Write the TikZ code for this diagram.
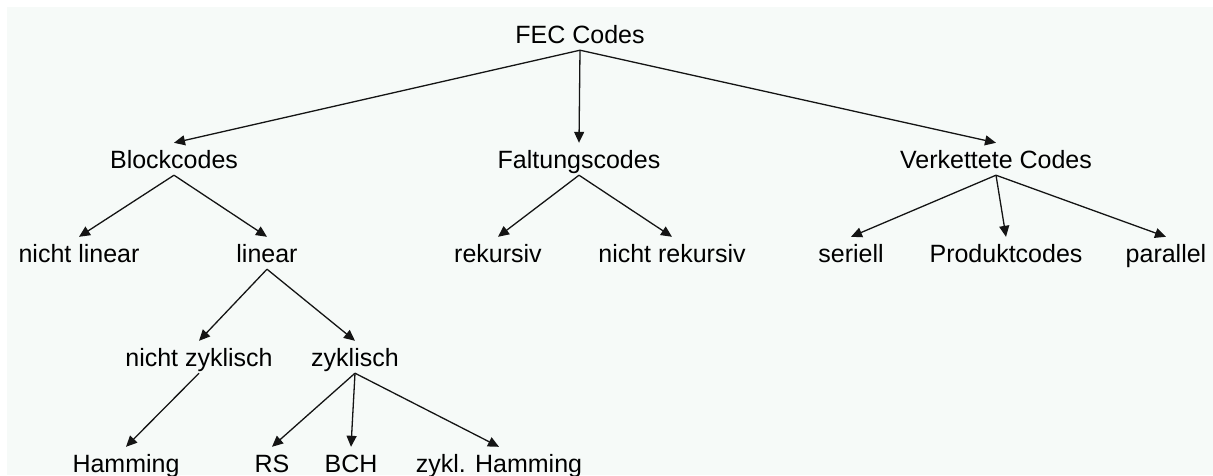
\documentclass[tikz,border=0pt]{standalone}
\usepackage{fontspec}
\setmainfont{Liberation Sans}
\usetikzlibrary{arrows.meta}
\definecolor{paper}{RGB}{246,250,248}
\definecolor{ink}{RGB}{20,20,20}
\tikzset{
  lbl/.style={anchor=base, inner xsep=0pt, inner ysep=7pt, text height=18pt, text depth=0pt,
              font=\fontsize{25}{30}\selectfont, text=black},
  edge/.style={draw=ink, line width=1.3pt, -{Triangle[length=11pt,width=10pt]}}
}
\begin{document}
\begin{tikzpicture}[x=1pt,y=-1pt]
\useasboundingbox (0,0) rectangle (1213,475);
\fill[paper] (7,7) rectangle (1213,475);

% root
\node[lbl] (fec) at (580,43) {FEC Codes};

% main families
\node[lbl] (block) at (174,168) {Blockcodes};
\node[lbl] (falt)  at (579,168) {Faltungscodes};
\node[lbl] (verk)  at (996,168) {Verkettete Codes};

% sub-classes
\node[lbl] (nlin) at (79,262)   {nicht linear};
\node[lbl] (lin)  at (267,262)  {linear};
\node[lbl] (rek)  at (498,262)  {rekursiv};
\node[lbl] (nrek) at (672,262)  {nicht rekursiv};
\node[lbl] (ser)  at (851,262)  {seriell};
\node[lbl] (prod) at (1006,262) {Produktcodes};
\node[lbl] (par)  at (1166,262) {parallel};

% linear block codes
\node[lbl] (nzyk) at (199,366) {nicht zyklisch};
\node[lbl] (zyk)  at (355,366) {zyklisch};

% concrete codes
\node[lbl] (ham)  at (126,472) {Hamming};
\node[lbl] (rs)   at (272,472) {RS};
\node[lbl] (bch)  at (351,472) {BCH};
\node[lbl] (zham) at (499,472) {zykl. Hamming};

% connectors
\draw[edge] (fec.south) -- (block.north);
\draw[edge] (fec.south) -- (falt.north);
\draw[edge] (fec.south) -- (verk.north);

\draw[edge] (block.south) -- (nlin.north);
\draw[edge] (block.south) -- (lin.north);
\draw[edge] (falt.south) -- (rek.north);
\draw[edge] (falt.south) -- (nrek.north);
\draw[edge] (verk.south) -- (ser.north);
\draw[edge] (verk.south) -- (prod.north);
\draw[edge] (verk.south) -- (par.north);

\draw[edge] (lin.south) -- (nzyk.north);
\draw[edge] (lin.south) -- (zyk.north);

\draw[edge] (nzyk.south) -- (ham.north);
\draw[edge] (zyk.south) -- (rs.north);
\draw[edge] (zyk.south) -- (bch.north);
\draw[edge] (zyk.south) -- (zham.north);
\end{tikzpicture}
\end{document}
